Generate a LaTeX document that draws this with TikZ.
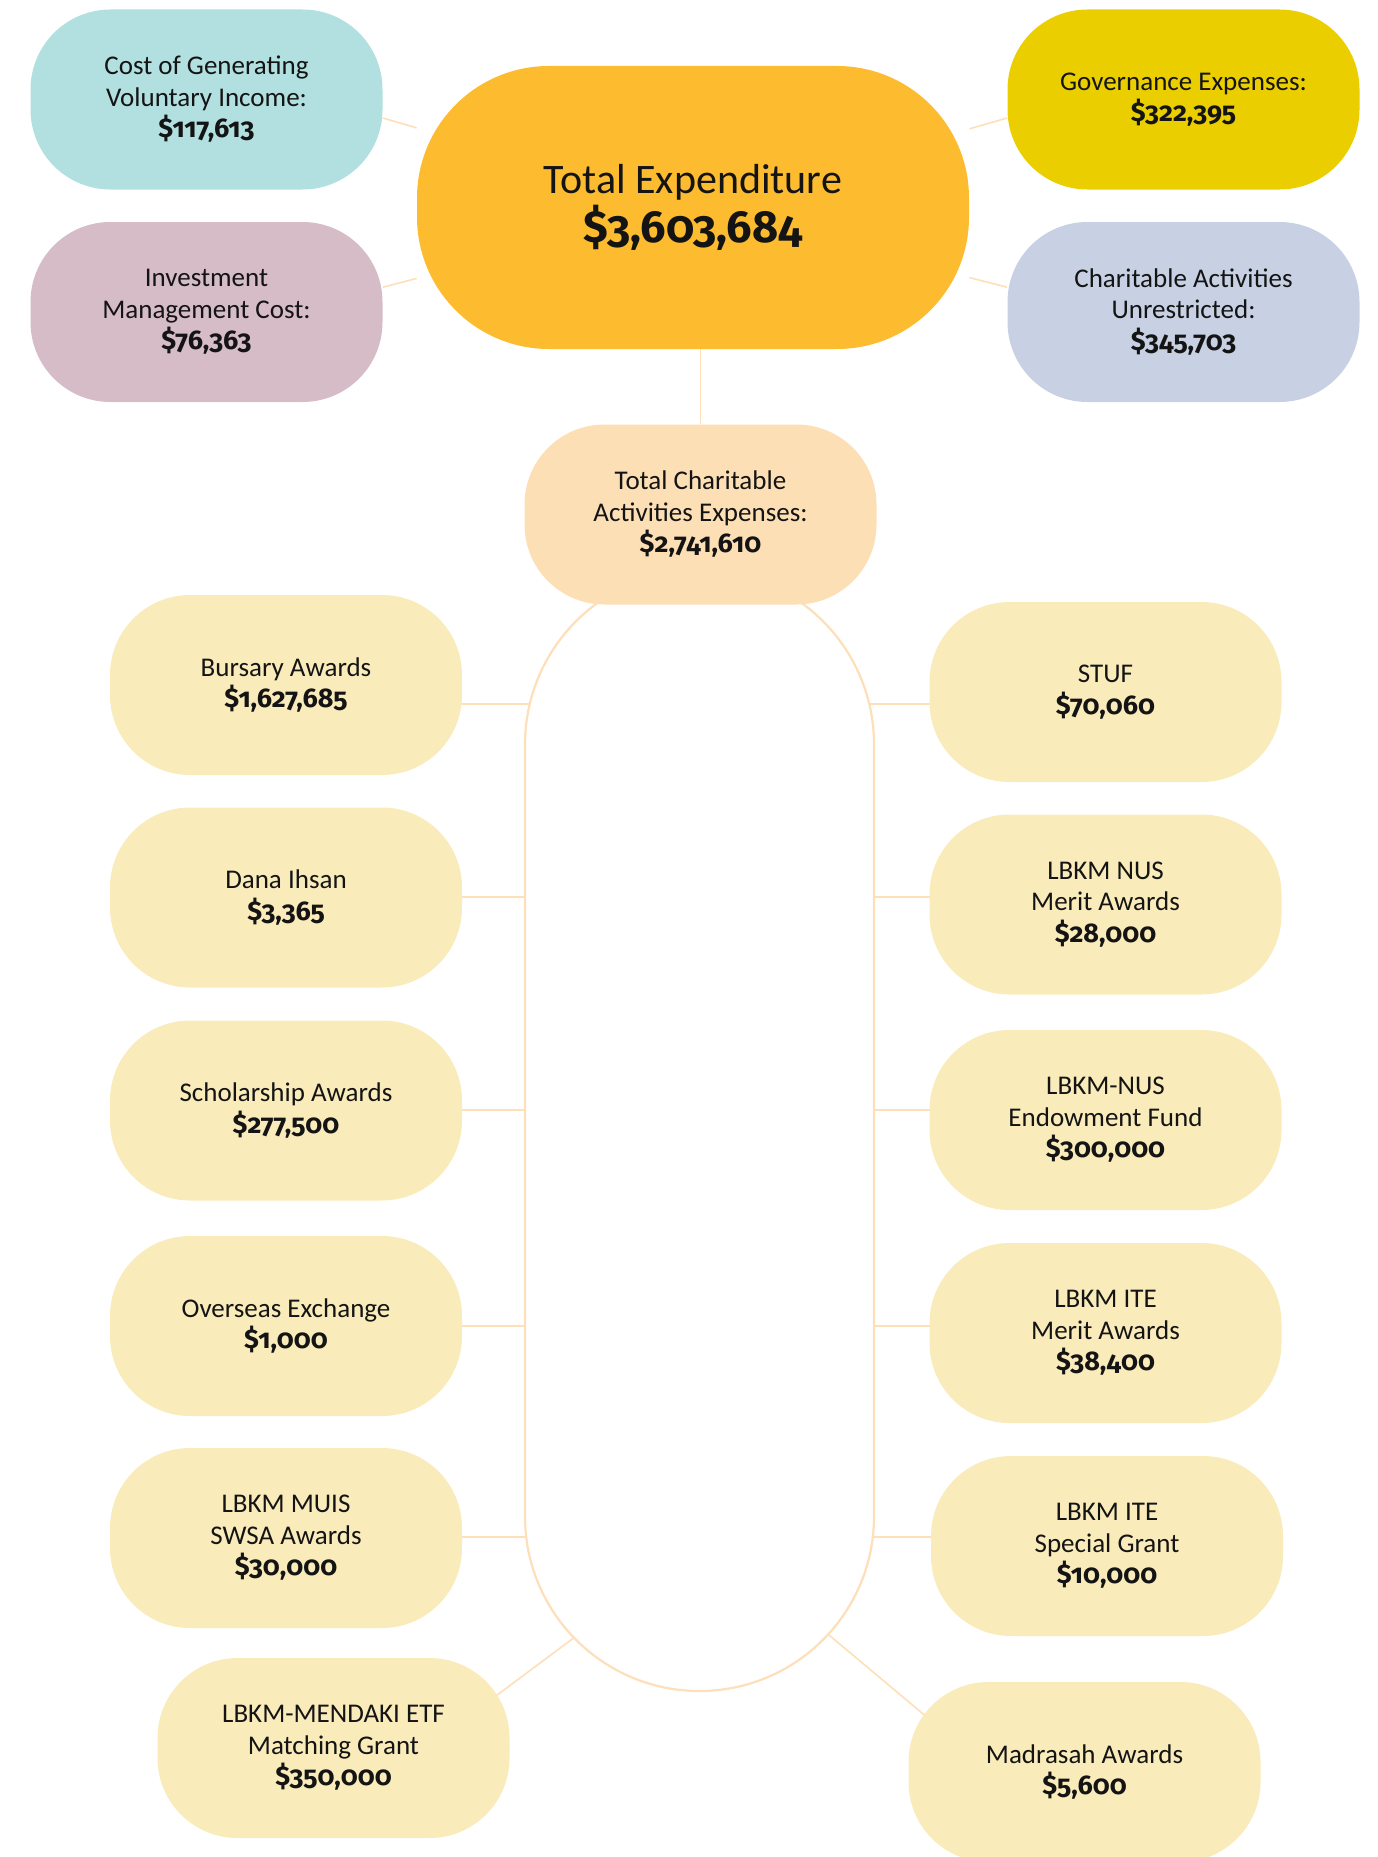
\documentclass[tikz,border=0pt]{standalone}
\usepackage{fontspec}
\setmainfont{Carlito}
\newfontfamily\numfont{Fira Sans}[Numbers={OldStyle,Proportional}]
\usetikzlibrary{calc}
\usetikzlibrary{backgrounds}

\definecolor{costcol}{HTML}{B2DFDF}
\definecolor{investcol}{HTML}{D6BCC6}
\definecolor{texpcol}{HTML}{FDBC2F}
\definecolor{govcol}{HTML}{EACE00}
\definecolor{charcol}{HTML}{C7D1E3}
\definecolor{tcharcol}{HTML}{FDDFB5}
\definecolor{itemcol}{HTML}{F9EBBA}
\definecolor{linkcol}{HTML}{FDDFBA}
\definecolor{inkcol}{HTML}{141414}

\newcommand{\amt}[1]{{\numfont\bfseries\fontsize{13.5}{15.75}\selectfont #1}}
\newcommand{\bigamt}[1]{{\numfont\bfseries\fontsize{22.5}{24.5}\selectfont #1}}

\begin{document}
\begin{tikzpicture}[x=0.5pt, y=-0.5pt,
  blob/.style={rectangle, rounded corners=40pt, minimum width=176pt, minimum height=90pt, inner sep=0pt, align=center, text=inkcol, font=\fontsize{13.5}{15.75}\selectfont},
  item/.style={blob, fill=itemcol},
  link/.style={draw=linkcol, line width=0.8pt}]
\useasboundingbox (0,0) rectangle (1377,1857);

\node [blob, fill=texpcol, minimum width=276pt, minimum height=141.5pt, rounded corners=66pt, font=\fontsize{21}{24.5}\selectfont] (texp) at (693,207.5) {Total Expenditure\\\bigamt{\$3,603,684}};
\node [blob, fill=costcol] (cost) at (206.5,99.5) {Cost of Generating\\Voluntary Income:\\\amt{\$117,613}};
\node [blob, fill=investcol] (invest) at (206.5,312) {Investment\\Management Cost:\\\amt{\$76,363}};
\node [blob, fill=govcol] (gov) at (1183.5,99.5) {Governance Expenses:\\\amt{\$322,395}};
\node [blob, fill=charcol] (charun) at (1183.5,312) {Charitable Activities\\Unrestricted:\\\amt{\$345,703}};

\node [rectangle, draw=linkcol, line width=1.1pt, fill=white, rounded corners=87.25pt, minimum width=174.5pt, minimum height=560.5pt, inner sep=0pt] (spine) at (699.5,1130.5) {};
\node [blob, fill=tcharcol] (tcharit) at (700.5,514.5) {Total Charitable\\Activities Expenses:\\\amt{\$2,741,610}};

\node [item] (bursary) at (286,685) {Bursary Awards\\\amt{\$1,627,685}};
\node [item] (dana) at (286,897.5) {Dana Ihsan\\\amt{\$3,365}};
\node [item] (scholar) at (286,1110.5) {Scholarship Awards\\\amt{\$277,500}};
\node [item] (overseas) at (286,1326) {Overseas Exchange\\\amt{\$1,000}};
\node [item] (muis) at (286,1538) {LBKM MUIS\\SWSA Awards\\\amt{\$30,000}};
\node [item] (mendaki) at (333.5,1748) {LBKM-MENDAKI ETF\\Matching Grant\\\amt{\$350,000}};

\node [item] (stuf) at (1105.5,692) {STUF\\\amt{\$70,060}};
\node [item] (nusmerit) at (1105.5,904.5) {LBKM NUS\\Merit Awards\\\amt{\$28,000}};
\node [item] (endow) at (1105.5,1120) {LBKM-NUS\\Endowment Fund\\\amt{\$300,000}};
\node [item] (itemerit) at (1105.5,1333) {LBKM ITE\\Merit Awards\\\amt{\$38,400}};
\node [item] (itespecial) at (1107,1546) {LBKM ITE\\Special Grant\\\amt{\$10,000}};
\node [item] (madrasah) at (1084.5,1772) {Madrasah Awards\\\amt{\$5,600}};

\coordinate (spinebot) at ([yshift=87.25pt]spine.south);

\begin{scope}[on background layer]
\draw[link] (tcharit |- texp) -- (tcharit);
\draw[link] (cost.-6) -- (texp);
\draw[link] (invest.8) -- (texp);
\draw[link] (gov.186.5) -- (texp);
\draw[link] (charun.172) -- (texp);
\foreach \l/\r/\y in {bursary/stuf/704, dana/nusmerit/897, scholar/endow/1110, overseas/itemerit/1326, muis/itespecial/1537}
  \draw[link] (\l |- 0,\y) -- (\r |- 0,\y);
\draw[link] ([shift={(223.7:87.25pt)}]spinebot) -- ($(mendaki)+(82,8)$);
\draw[link] ([shift={(317.8:87.25pt)}]spinebot) -- ($(madrasah)+(-60,27)$);
\end{scope}
\end{tikzpicture}
\end{document}
